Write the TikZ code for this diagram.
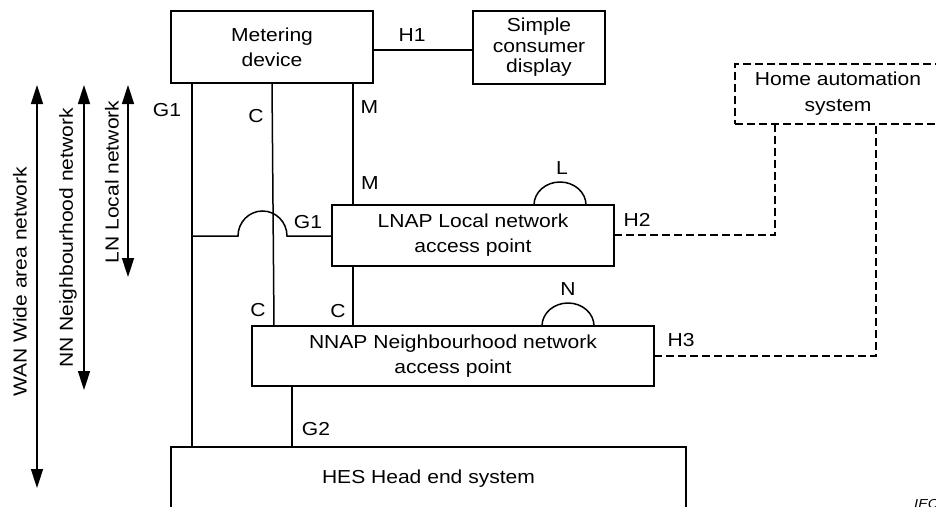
\documentclass[tikz,border=0pt]{standalone}
\usepackage{fontspec}
\setmainfont{Liberation Sans}[FakeStretch=1.12]
\usetikzlibrary{arrows.meta,calc}
\tikzset{
  box/.style={draw, line width=1.5pt, rectangle, inner sep=0pt, outer sep=0pt, align=center,
              font=\fontsize{18.8}{25}\selectfont},
  dbox/.style={box, line width=1.3pt, dash pattern=on 8pt off 4pt},
  wire/.style={line width=1.5pt},
  dwire/.style={line width=1.3pt, dash pattern=on 8pt off 4pt},
  lbl/.style={inner sep=0pt, font=\fontsize{18.8}{25}\selectfont},
  span/.style={line width=1.5pt, {Triangle[length=19pt,width=12pt]}-{Triangle[length=19pt,width=12pt]}},
}
\begin{document}
\begin{tikzpicture}[x=1pt,y=-1pt]
\useasboundingbox (0,0) rectangle (936,506);
\clip (0,0) rectangle (936,506);
\fill[white] (0,0) rectangle (936,506);

% boxes
\node[box, minimum width=202pt, minimum height=72pt] (meter) at (272,47) {Metering\\device};
\node[box, minimum width=132pt, minimum height=73pt, font=\fontsize{18.8}{20.5}\selectfont] (scd) at (539,47.5) {Simple\\consumer\\display};
\node[dbox, minimum width=206pt, minimum height=60pt, font=\fontsize{18.8}{26}\selectfont] (has) at (838,94) {Home automation\\system};
\node[box, minimum width=282pt, minimum height=61pt] (lnap) at (473,235.5) {LNAP Local network\\access point};
\node[box, minimum width=402pt, minimum height=60pt] (nnap) at (453,356) {NNAP Neighbourhood network\\access point};
\node[box, minimum width=515pt, minimum height=63pt] (hes) at (428.5,478.5) {HES Head end system};

% connectors
\draw[wire] (meter.east |- 0,50) -- (scd.west |- 0,50);
\draw[wire] (meter.south -| 192,0) -- (hes.north -| 192,0);
\coordinate (g1a) at (192,236);
\draw[wire] (g1a) -- (238,236) arc[start angle=180, end angle=0, x radius=24.5pt, y radius=25pt]
  -- (lnap.west |- 0,236);
\draw[wire] (meter.south -| 272,0) -- (nnap.north -| 274,0);
\draw[wire] (meter.south -| 353,0) -- (lnap.north -| 353,0);
\draw[wire] (lnap.south -| 353,0) -- (nnap.north -| 353,0);
\draw[wire] (nnap.south -| 292,0) -- (hes.north -| 292,0);
\draw[wire] ($(lnap.north west)+(202,0)$) arc[start angle=180, end angle=0, x radius=26pt, y radius=23pt];
\draw[wire] ($(nnap.north west)+(290,0)$) arc[start angle=180, end angle=0, x radius=26pt, y radius=23pt];
\draw[dwire] (lnap.east |- 0,235) -- (775,235) -- (has.south -| 775,0);
\draw[dwire] (nnap.east |- 0,356) -- (876,356) -- (has.south -| 876,0);

% network spans
\coordinate (wanT) at (37,85);  \coordinate (wanB) at (37,488);
\coordinate (nnT) at (84,85);   \coordinate (nnB) at (84,390);
\coordinate (lnT) at (128,85);  \coordinate (lnB) at (128,277);
\draw[span] (wanT) -- (wanB);
\draw[span] (nnT) -- (nnB);
\draw[span] (lnT) -- (lnB);
\node[lbl, rotate=90] (wanl) at (20,282) {WAN Wide area network};
\node[lbl, rotate=90] (nnl) at (68,238) {NN Neighbourhood network};
\node[lbl, rotate=90] (lnl) at (112,182) {LN Local network};

% labels
\node[lbl] (h1) at (412,35) {H1};
\node[lbl] (g1t) at (167,110) {G1};
\node[lbl] (ct) at (256,116) {C};
\node[lbl] (mt) at (369.5,107) {M};
\node[lbl] (mb) at (370,183) {M};
\node[lbl] (ll) at (562,168) {L};
\node[lbl] (g1b) at (308,222) {G1};
\node[lbl] (h2) at (637,220) {H2};
\node[lbl] (nl) at (568,289) {N};
\node[lbl] (cl) at (258,310) {C};
\node[lbl] (cr) at (338,311) {C};
\node[lbl] (h3) at (681,340) {H3};
\node[lbl] (g2) at (316,429) {G2};
\node[inner sep=0pt, anchor=north west, font=\itshape\fontsize{13}{13}\selectfont] (iec) at (914,499.5) {IEC};
\end{tikzpicture}
\end{document}
